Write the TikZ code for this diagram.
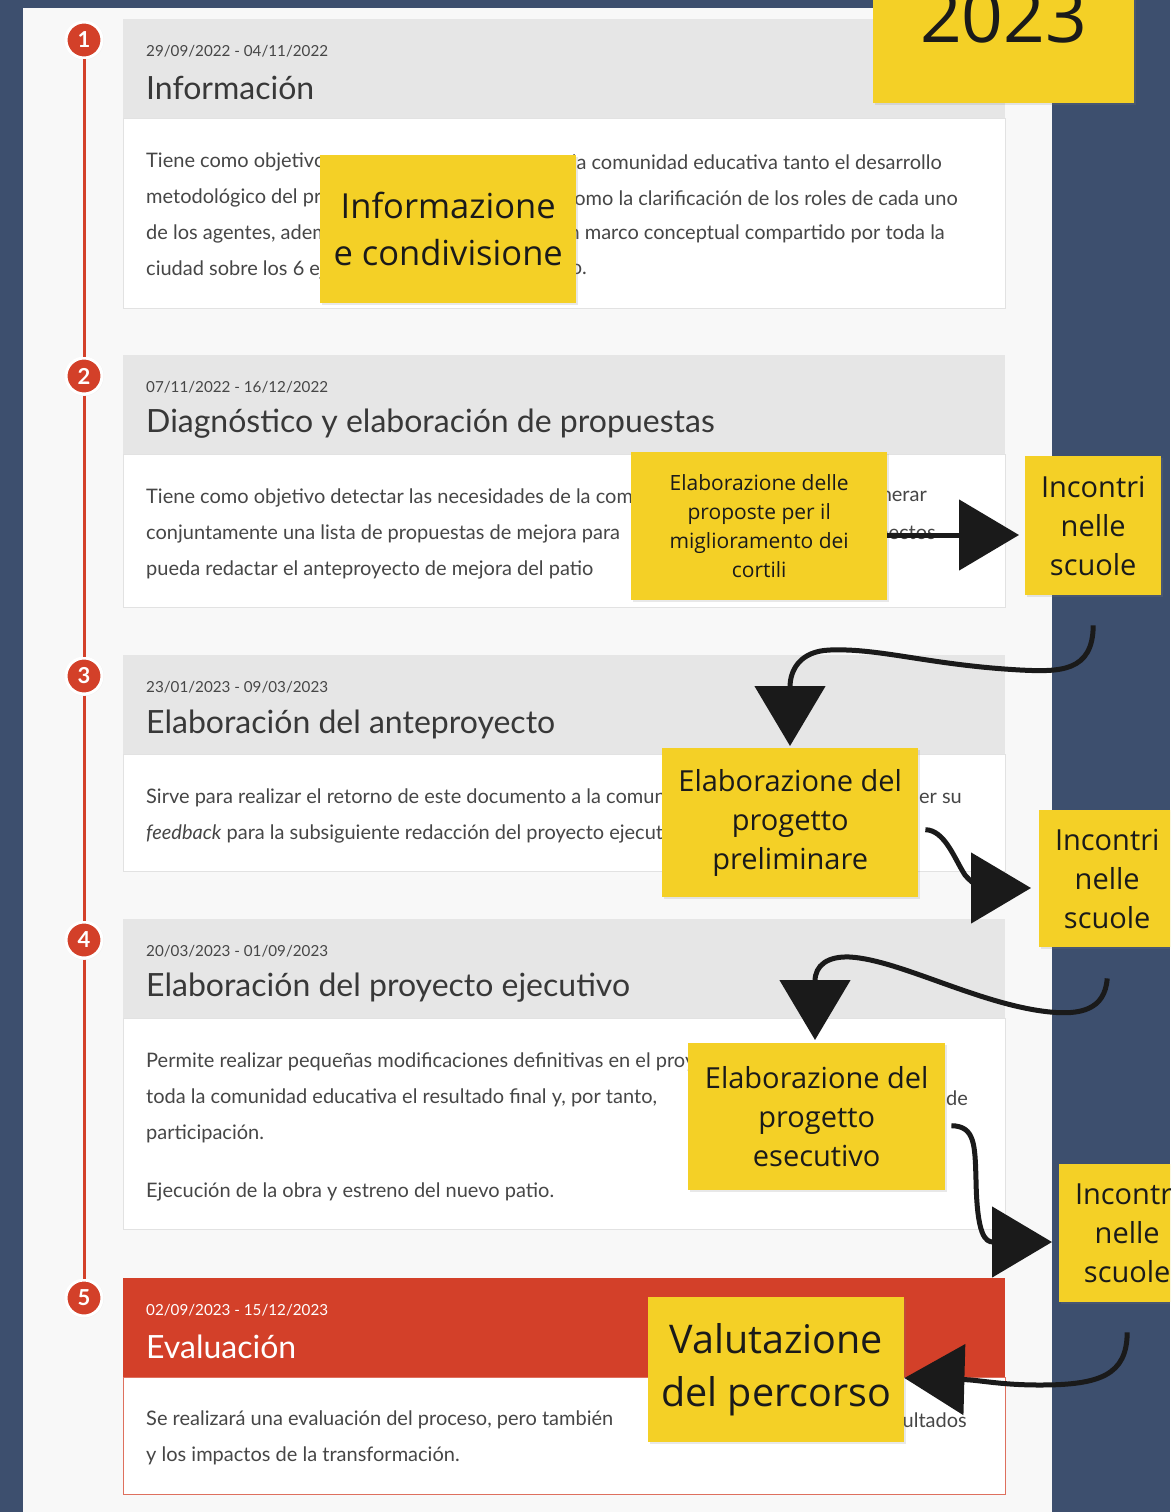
\documentclass[tikz,border=0pt]{standalone}
\usepackage{fontspec}
\setmainfont{Open Sans}
\newfontfamily\bodyfont{Lato}
\usetikzlibrary{arrows.meta,shadows}
\definecolor{BgBlue}{RGB}{61,79,110}
\definecolor{PanelGray}{RGB}{248,248,248}
\definecolor{HeadGray}{RGB}{230,230,230}
\definecolor{LineGray}{RGB}{226,226,226}
\definecolor{StepRed}{RGB}{211,64,41}
\definecolor{NoteYellow}{RGB}{244,208,38}
\definecolor{TextGray}{RGB}{70,70,70}
\definecolor{InkBlack}{RGB}{26,26,26}

\begin{document}
\begin{tikzpicture}[x=1pt,y=-1pt]
  \tikzset{
    HeadStyle/.style = {fill=HeadGray, anchor=north west, minimum width=882,
      minimum height=100, inner sep=0},
    BodyStyle/.style = {fill=white, draw=LineGray, line width=1,
      anchor=north west, minimum width=882, inner sep=0},
    StepDot/.style = {circle, fill=StepRed, draw=white, line width=3,
      minimum size=36, inner sep=0, text=white,
      font=\bodyfont\bfseries\fontsize{22}{22}\selectfont,
      circular drop shadow={shadow scale=1.12, shadow xshift=0pt,
        shadow yshift=0pt, opacity=0.12}},
    DateStyle/.style = {anchor=west, inner sep=0, text=TextGray,
      font=\bodyfont\fontsize{15.2}{15.2}\selectfont},
    TitleStyle/.style = {anchor=west, inner sep=0, text=TextGray!80!black,
      font=\bodyfont\fontsize{32}{32}\selectfont},
    LineText/.style = {anchor=west, inner sep=0, text=TextGray,
      font=\bodyfont\fontsize{20}{20}\selectfont},
    LineEnd/.style = {LineText, anchor=east},
    NoteStyle/.style = {fill=NoteYellow, anchor=north west, inner sep=0,
      align=center, text=InkBlack,
      drop shadow={shadow xshift=2pt, shadow yshift=-2pt, opacity=0.18}},
    FlowArrow/.style = {draw=InkBlack, line width=5,
      -{Triangle[length=60pt,width=70pt]}}
  }
  \useasboundingbox (0,0) rectangle (1170,1512);
  \clip (0,0) rectangle (1170,1512);
  \fill[BgBlue] (0,0) rectangle (1170,1512);
  \fill[PanelGray] (23,8) rectangle (1052,1512);

  \foreach \i/\top/\bh in {1/19/190, 2/355/153, 3/655/117, 4/919/211}{
    \node[HeadStyle] (h\i) at (123,\top) {};
    \node[BodyStyle, minimum height=\bh] (b\i) at (123,\top+99) {};
    \node[StepDot] (c\i) at (84,\top+21) {\i};
  }
  \node[HeadStyle, fill=StepRed] (h5) at (123,1278) {};
  \node[BodyStyle, draw=StepRed!75, minimum height=117] (b5) at (123,1377) {};
  \node[StepDot] (c5) at (84,1298) {5};
  \draw[StepRed, line width=3] (c1) -- (c2) -- (c3) -- (c4) -- (c5);

  \node[DateStyle] (d1) at (146,51) {29/09/2022 - 04/11/2022};
  \node[TitleStyle] (t1) at (146,88) {Información};
  \node[LineText] (l11) at (146,162) {Tiene como objetivo};
  \node[LineEnd] (r11) at (942,162) {la comunidad educativa tanto el desarrollo};
  \node[LineText] (l12) at (146,198) {metodológico del proceso};
  \node[LineEnd] (r12) at (958,198) {como la clarificación de los roles de cada uno};
  \node[LineText] (l13) at (146,234) {de los agentes, además};
  \node[LineEnd] (r13) at (945,234) {un marco conceptual compartido por toda la};
  \node[LineText] (l14) at (146,270) {ciudad sobre los 6 ejes};
  \node[LineEnd] (r14) at (587,270) {proyecto.};

  \node[DateStyle] (d2) at (146,387) {07/11/2022 - 16/12/2022};
  \node[TitleStyle] (t2) at (146,424) {Diagnóstico y elaboración de propuestas};
  \node[LineText] (l21) at (146,498) {Tiene como objetivo detectar las necesidades de la comunidad};
  \node[LineEnd] (r21) at (927,498) {generar};
  \node[LineText] (l22) at (146,534) {conjuntamente una lista de propuestas de mejora para};
  \node[LineEnd] (r22) at (936,534) {los aspectos};
  \node[LineText] (l23) at (146,570) {pueda redactar el anteproyecto de mejora del patio};

  \node[DateStyle] (d3) at (146,687) {23/01/2023 - 09/03/2023};
  \node[TitleStyle] (t3) at (146,724) {Elaboración del anteproyecto};
  \node[LineText] (l31) at (146,798) {Sirve para realizar el retorno de este documento a la comunidad};
  \node[LineEnd] (r31) at (962,798) {para obtener su};
  \node[LineText] (l32) at (146,834) {\textit{feedback} para la subsiguiente redacción del proyecto ejecutivo};

  \node[DateStyle] (d4) at (146,951) {20/03/2023 - 01/09/2023};
  \node[TitleStyle] (t4) at (146,988) {Elaboración del proyecto ejecutivo};
  \node[LineText] (l41) at (146,1062) {Permite realizar pequeñas modificaciones definitivas en el proyecto};
  \node[LineText] (l42) at (146,1098) {toda la comunidad educativa el resultado final y, por tanto,};
  \node[LineEnd] (r42) at (968,1098) {de};
  \node[LineText] (l43) at (146,1134) {participación.};
  \node[LineText] (l44) at (146,1192) {Ejecución de la obra y estreno del nuevo patio.};

  \node[DateStyle, text=white] (d5) at (146,1310) {02/09/2023 - 15/12/2023};
  \node[TitleStyle, text=white] (t5) at (146,1347) {Evaluación};
  \node[LineText] (l51) at (146,1420) {Se realizará una evaluación del proceso, pero también};
  \node[LineEnd] (r51) at (967,1420) {de los resultados};
  \node[LineText] (l52) at (146,1456) {y los impactos de la transformación.};

  \node[NoteStyle, minimum width=261, minimum height=173,
    font=\fontsize{73}{73}\selectfont] (year) at (873,-70) {2023};
  \node[NoteStyle, minimum width=256, minimum height=148,
    font=\fontsize{34.5}{47}\selectfont] (s1) at (320,155) {Informazione\\e condivisione};
  \node[NoteStyle, minimum width=256, minimum height=148,
    font=\fontsize{21}{29}\selectfont] (s2) at (631,452)
    {Elaborazione delle\\proposte per il\\miglioramento dei\\cortili};
  \node[NoteStyle, minimum width=256, minimum height=149,
    font=\fontsize{29}{39}\selectfont] (s3) at (662,748)
    {Elaborazione del\\progetto\\preliminare};
  \node[NoteStyle, minimum width=257, minimum height=147,
    font=\fontsize{29}{39}\selectfont] (s4) at (688,1043)
    {Elaborazione del\\progetto\\esecutivo};
  \node[NoteStyle, minimum width=256, minimum height=145,
    font=\fontsize{39.5}{53}\selectfont] (s5) at (648,1297) {Valutazione\\del percorso};
  \node[NoteStyle, minimum width=136, minimum height=139,
    font=\fontsize{29}{39}\selectfont] (i1) at (1025,456) {Incontri\\nelle\\scuole};
  \node[NoteStyle, minimum width=136, minimum height=137,
    font=\fontsize{29}{39}\selectfont] (i2) at (1039,810) {Incontri\\nelle\\scuole};
  \node[NoteStyle, minimum width=136, minimum height=138,
    font=\fontsize{29}{39}\selectfont] (i3) at (1059,1164) {Incontri\\nelle\\scuole};

  \coordinate (a2) at ([yshift=-30pt]i1.south);
  \coordinate (a4) at ([yshift=-31pt]i2.south);
  \coordinate (a6) at ([yshift=-30pt]i3.south);
  \draw[FlowArrow] (s2.east |- 0,535) -- ([xshift=-6pt]i1.west |- 0,535);
  \draw[FlowArrow] (a2) .. controls (1093,672) and (1060,672) .. (1020,670)
    .. controls (930,665) and (880,648) .. (830,650)
    .. controls (800,651) and (790,670) .. ([yshift=2pt]s3.north -| 790,0);
  \draw[FlowArrow] ([xshift=7pt,yshift=-7pt]s3.east)
    .. controls (945,830) and (955,860) .. (965,875)
    .. controls (975,887) and (985,888) .. ([xshift=-8pt]i2.west |- 0,888);
  \draw[FlowArrow] (a4) .. controls (1105,1010) and (1080,1015) .. (1050,1012)
    .. controls (980,1005) and (900,960) .. (850,957)
    .. controls (828,956) and (815,965) .. ([yshift=3pt]s4.north -| 815,0);
  \draw[FlowArrow] ([xshift=6pt,yshift=-9pt]s4.east)
    .. controls (975,1126) and (975,1145) .. (976,1180)
    .. controls (977,1235) and (985,1242) .. ([xshift=-7pt]i3.west |- 0,1242);
  \draw[FlowArrow] (a6) .. controls (1127,1375) and (1100,1385) .. (1040,1385)
    .. controls (1000,1385) and (980,1380) .. (s5.east |- 0,1378);
\end{tikzpicture}
\end{document}
